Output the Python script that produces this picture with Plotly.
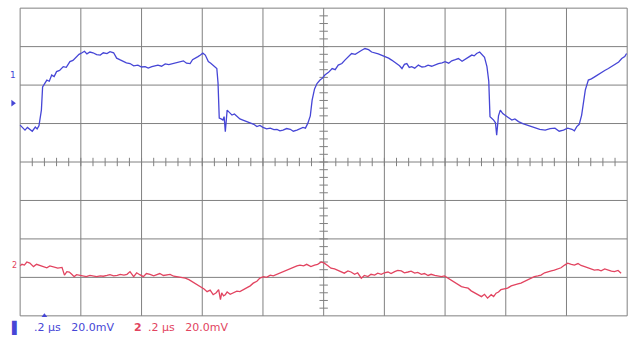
import numpy as np
import plotly.graph_objects as go

# Time axis in screen divisions (0.2 us/div), vertical position in divisions
ch1_t = [0.00, 0.04, 0.08, 0.12, 0.16, 0.20, 0.25, 0.28, 0.31, 0.35, 0.37, 0.40, 0.44, 0.48, 0.52, 0.56,
         0.60, 0.65, 0.71, 0.76, 0.82, 0.87, 0.93, 0.97, 1.02, 1.06, 1.10, 1.15, 1.20, 1.26, 1.32, 1.37,
         1.43, 1.48, 1.54, 1.59, 1.64, 1.70, 1.75, 1.81, 1.87, 1.94, 2.00, 2.06, 2.11, 2.17, 2.22, 2.27,
         2.33, 2.39, 2.45, 2.52, 2.58, 2.63, 2.69, 2.74, 2.80, 2.84, 2.88, 2.93, 2.97, 3.01, 3.05, 3.10,
         3.14, 3.18, 3.24, 3.26, 3.28, 3.31, 3.34, 3.36, 3.38, 3.41, 3.45, 3.49, 3.53, 3.57, 3.62, 3.67,
         3.73, 3.79, 3.85, 3.90, 3.95, 4.00, 4.06, 4.12, 4.18, 4.23, 4.28, 4.33, 4.39, 4.45, 4.50, 4.56,
         4.61, 4.66, 4.70, 4.74, 4.78, 4.81, 4.85, 4.89, 4.94, 4.98, 5.02, 5.08, 5.14, 5.19, 5.24, 5.30,
         5.35, 5.40, 5.46, 5.52, 5.57, 5.62, 5.68, 5.74, 5.79, 5.85, 5.90, 5.96, 6.01, 6.07, 6.12, 6.17,
         6.21, 6.25, 6.29, 6.33, 6.37, 6.41, 6.45, 6.50, 6.56, 6.62, 6.67, 6.72, 6.78, 6.84, 6.89, 6.95,
         7.00, 7.06, 7.11, 7.17, 7.22, 7.28, 7.33, 7.39, 7.44, 7.48, 7.52, 7.57, 7.61, 7.65, 7.69, 7.72,
         7.74, 7.77, 7.80, 7.83, 7.85, 7.88, 7.91, 7.95, 7.99, 8.04, 8.10, 8.15, 8.21, 8.28, 8.35, 8.41,
         8.48, 8.56, 8.65, 8.73, 8.81, 8.88, 8.95, 9.02, 9.09, 9.13, 9.17, 9.21, 9.25, 9.28, 9.31, 9.36,
         9.41, 9.47, 9.52, 9.58, 9.63, 9.69, 9.74, 9.80, 9.86, 9.91, 9.96, 9.99]
ch1_v = [0.96, 0.88, 0.83, 0.90, 0.86, 0.80, 0.91, 0.86, 0.94, 1.35, 1.95, 2.02, 2.13, 2.10, 2.26, 2.22,
         2.35, 2.38, 2.48, 2.46, 2.61, 2.64, 2.74, 2.80, 2.84, 2.88, 2.81, 2.86, 2.84, 2.79, 2.78, 2.84,
         2.82, 2.87, 2.84, 2.70, 2.66, 2.61, 2.58, 2.56, 2.50, 2.52, 2.47, 2.48, 2.44, 2.48, 2.50, 2.52,
         2.49, 2.55, 2.53, 2.56, 2.58, 2.62, 2.63, 2.57, 2.56, 2.66, 2.69, 2.74, 2.78, 2.83, 2.78, 2.61,
         2.57, 2.52, 2.43, 2.05, 1.14, 1.12, 1.09, 1.18, 0.79, 1.35, 1.28, 1.22, 1.25, 1.18, 1.12, 1.09,
         1.06, 1.01, 0.98, 0.92, 0.95, 0.90, 0.86, 0.88, 0.84, 0.85, 0.81, 0.83, 0.87, 0.85, 0.80, 0.83,
         0.86, 0.90, 0.88, 1.01, 1.20, 1.61, 1.90, 2.04, 2.13, 2.18, 2.26, 2.33, 2.43, 2.40, 2.52, 2.56,
         2.65, 2.72, 2.82, 2.80, 2.86, 2.90, 2.95, 2.92, 2.86, 2.84, 2.81, 2.77, 2.74, 2.70, 2.65, 2.60,
         2.56, 2.50, 2.43, 2.54, 2.56, 2.46, 2.48, 2.44, 2.52, 2.47, 2.48, 2.52, 2.49, 2.53, 2.56, 2.58,
         2.61, 2.57, 2.63, 2.66, 2.69, 2.62, 2.67, 2.74, 2.78, 2.76, 2.82, 2.86, 2.78, 2.72, 2.48, 2.10,
         1.18, 1.14, 1.09, 1.02, 0.70, 1.20, 1.35, 1.26, 1.22, 1.15, 1.09, 1.12, 1.05, 1.00, 0.96, 0.92,
         0.88, 0.85, 0.83, 0.87, 0.88, 0.80, 0.83, 0.88, 0.85, 0.81, 0.92, 0.98, 1.22, 1.55, 1.87, 2.13,
         2.16, 2.22, 2.27, 2.35, 2.38, 2.43, 2.48, 2.56, 2.60, 2.69, 2.74, 2.82]

ch2_t = [0.00, 0.03, 0.07, 0.11, 0.16, 0.22, 0.27, 0.33, 0.38, 0.44, 0.49, 0.55, 0.62, 0.69, 0.73, 0.77,
         0.81, 0.85, 0.89, 0.93, 0.98, 1.04, 1.09, 1.15, 1.21, 1.26, 1.32, 1.37, 1.43, 1.48, 1.54, 1.60,
         1.65, 1.71, 1.76, 1.81, 1.87, 1.92, 1.97, 2.03, 2.08, 2.14, 2.20, 2.25, 2.30, 2.36, 2.42, 2.47,
         2.53, 2.58, 2.65, 2.72, 2.78, 2.83, 2.90, 2.97, 3.03, 3.08, 3.13, 3.18, 3.23, 3.27, 3.30, 3.32,
         3.35, 3.38, 3.41, 3.46, 3.51, 3.57, 3.62, 3.68, 3.73, 3.79, 3.84, 3.90, 3.95, 4.01, 4.06, 4.12,
         4.17, 4.23, 4.28, 4.34, 4.39, 4.45, 4.50, 4.56, 4.61, 4.67, 4.72, 4.79, 4.85, 4.90, 4.96, 5.01,
         5.07, 5.12, 5.18, 5.23, 5.29, 5.34, 5.40, 5.45, 5.51, 5.56, 5.62, 5.67, 5.73, 5.78, 5.84, 5.89,
         5.95, 6.00, 6.06, 6.11, 6.17, 6.22, 6.28, 6.33, 6.39, 6.44, 6.50, 6.55, 6.61, 6.66, 6.72, 6.77,
         6.83, 6.88, 6.94, 6.99, 7.05, 7.10, 7.16, 7.21, 7.27, 7.32, 7.38, 7.43, 7.49, 7.54, 7.60, 7.65,
         7.70, 7.76, 7.80, 7.84, 7.88, 7.92, 7.98, 8.03, 8.09, 8.14, 8.20, 8.25, 8.31, 8.36, 8.42, 8.47,
         8.53, 8.58, 8.64, 8.69, 8.75, 8.80, 8.86, 8.91, 8.97, 9.02, 9.08, 9.13, 9.19, 9.24, 9.30, 9.35,
         9.41, 9.46, 9.52, 9.57, 9.63, 9.68, 9.74, 9.79, 9.85, 9.90, 9.95, 9.98]
ch2_v = [-2.70, -2.66, -2.68, -2.60, -2.63, -2.72, -2.66, -2.69, -2.73, -2.75, -2.70, -2.72, -2.76, -2.74,
         -2.94, -2.85, -2.86, -2.92, -2.98, -2.93, -2.94, -2.97, -2.98, -2.95, -2.97, -2.98, -2.96, -2.97,
         -2.95, -2.93, -2.96, -2.95, -2.92, -2.94, -2.92, -2.85, -2.98, -2.88, -2.93, -2.98, -2.90, -2.92,
         -2.96, -2.94, -2.90, -2.95, -2.93, -2.92, -2.97, -2.98, -3.00, -3.02, -3.06, -3.11, -3.16, -3.24,
         -3.30, -3.37, -3.33, -3.45, -3.40, -3.32, -3.58, -3.40, -3.48, -3.45, -3.38, -3.44, -3.41, -3.36,
         -3.37, -3.32, -3.28, -3.22, -3.15, -3.10, -3.02, -2.98, -3.00, -2.94, -2.96, -2.92, -2.88, -2.84,
         -2.81, -2.76, -2.72, -2.70, -2.68, -2.70, -2.66, -2.72, -2.68, -2.66, -2.60, -2.63, -2.70, -2.76,
         -2.78, -2.81, -2.85, -2.89, -2.83, -2.86, -2.92, -2.88, -3.02, -2.95, -2.98, -2.92, -2.94, -2.89,
         -2.92, -2.88, -2.86, -2.90, -2.85, -2.82, -2.83, -2.88, -2.86, -2.84, -2.89, -2.87, -2.92, -2.90,
         -2.95, -2.92, -2.95, -2.97, -2.98, -2.96, -3.02, -3.06, -3.11, -3.18, -3.24, -3.26, -3.28, -3.35,
         -3.41, -3.46, -3.50, -3.44, -3.54, -3.45, -3.50, -3.41, -3.38, -3.32, -3.30, -3.28, -3.22, -3.19,
         -3.17, -3.15, -3.10, -3.06, -3.02, -2.98, -2.96, -2.94, -2.88, -2.85, -2.83, -2.81, -2.78, -2.75,
         -2.68, -2.63, -2.66, -2.68, -2.64, -2.69, -2.72, -2.75, -2.78, -2.81, -2.80, -2.83, -2.78, -2.81,
         -2.84, -2.85, -2.82, -2.89]

# graticule: 10 x 8 divisions
x_divs = list(range(0, 11))
y_divs = list(range(-4, 5))

# channel settings readout
ch1_readout = ".2 μs   20.0mV"
ch2_readout = ".2 μs   20.0mV"

BLUE = "rgb(70,70,214)"
RED = "rgb(226,68,96)"
GRID = "rgb(128,128,128)"

fig = go.Figure()

for xv in x_divs:
    fig.add_shape(type="line", x0=xv, x1=xv, y0=y_divs[0], y1=y_divs[-1],
                  line=dict(color=GRID, width=1), layer="below")
for yv in y_divs:
    fig.add_shape(type="line", x0=x_divs[0], x1=x_divs[-1], y0=yv, y1=yv,
                  line=dict(color=GRID, width=1), layer="below")

# minor ticks along the centre lines (5 per division)
minor_x = np.arange(0.2, 10.0, 0.2)
minor_y = np.arange(-3.8, 4.0, 0.2)
fig.add_trace(go.Scatter(x=minor_x, y=np.zeros_like(minor_x), mode="markers", hoverinfo="skip",
                         marker=dict(symbol="line-ns", size=6, line=dict(color=GRID, width=1))))
fig.add_trace(go.Scatter(x=np.full_like(minor_y, 5.0), y=minor_y, mode="markers", hoverinfo="skip",
                         marker=dict(symbol="line-ew", size=6, line=dict(color=GRID, width=1))))

fig.add_trace(go.Scatter(x=ch1_t, y=ch1_v, mode="lines", line=dict(color=BLUE, width=1.3)))
fig.add_trace(go.Scatter(x=ch2_t, y=ch2_v, mode="lines", line=dict(color=RED, width=1.3)))

# channel reference marker at the left edge and trigger marker at the bottom
fig.add_trace(go.Scatter(x=[-0.12], y=[1.53], mode="markers", cliponaxis=False,
                         marker=dict(symbol="triangle-right", size=6, color=BLUE)))
fig.add_trace(go.Scatter(x=[0.40], y=[-4.0], mode="markers", cliponaxis=False,
                         marker=dict(symbol="triangle-up", size=5, color=BLUE)))

ann_font = dict(family="DejaVu Sans", size=11)
fig.add_annotation(x=-0.11, y=2.26, xref="x", yref="y", text="1", showarrow=False,
                   font=dict(family="DejaVu Sans", size=9, color=BLUE))
fig.add_annotation(x=-0.10, y=-2.68, xref="x", yref="y", text="2", showarrow=False,
                   font=dict(family="DejaVu Sans", size=8, color=RED))

readout_y = -0.034
fig.add_annotation(x=-0.19, y=readout_y, xref="x", yref="paper", text="<b>▌</b>", showarrow=False,
                   xanchor="left", yanchor="middle", font=dict(ann_font, color=BLUE, size=12))
fig.add_annotation(x=0.20, y=readout_y, xref="x", yref="paper", text=ch1_readout, showarrow=False,
                   xanchor="left", yanchor="middle", font=dict(ann_font, color=BLUE))
fig.add_annotation(x=1.84, y=readout_y, xref="x", yref="paper", text="<b>2</b>", showarrow=False,
                   xanchor="left", yanchor="middle", font=dict(ann_font, color=RED))
fig.add_annotation(x=2.07, y=readout_y, xref="x", yref="paper", text=ch2_readout, showarrow=False,
                   xanchor="left", yanchor="middle", font=dict(ann_font, color=RED))

fig.update_layout(
    width=631, height=338,
    margin=dict(l=8, r=2, t=7, b=21),
    paper_bgcolor="white", plot_bgcolor="white",
    showlegend=False,
    xaxis=dict(range=[-0.2, 10.03], showticklabels=False, showgrid=False,
               zeroline=False, ticks="", fixedrange=True),
    yaxis=dict(range=[-4.03, 4.03], showticklabels=False, showgrid=False,
               zeroline=False, ticks="", fixedrange=True),
)

fig.write_html("out.html")
